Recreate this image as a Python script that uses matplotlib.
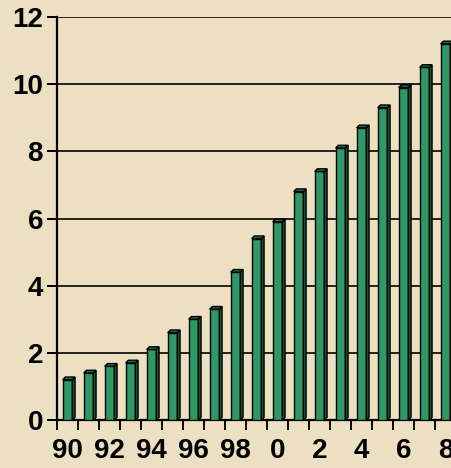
import matplotlib
matplotlib.use("Agg")
import matplotlib.pyplot as plt
from matplotlib.patches import Polygon
import numpy as np

years = ["90", "91", "92", "93", "94", "95", "96", "97", "98", "99",
         "0", "1", "2", "3", "4", "5", "6", "7", "8"]
values = [1.2, 1.4, 1.6, 1.7, 2.1, 2.6, 3.0, 3.3, 4.4, 5.4,
          5.9, 6.8, 7.4, 8.1, 8.7, 9.3, 9.9, 10.5, 11.2]
yticks = [0, 2, 4, 6, 8, 10, 12]

bg = "#ECDFC2"
front = "#2E9966"
side = "#17553A"
top = "#1F7048"

fig = plt.figure(figsize=(4.52, 4.68), dpi=100, facecolor=bg)
ax = fig.add_axes([57/452, 48/468, 399/452, 403/468])
ax.set_facecolor(bg)

x = np.arange(len(years))
w = 0.46
dx, dy = 0.13, 0.08

ax.set_xlim(-0.5, len(years) - 0.5)
ax.set_ylim(0, 12)

for yv in yticks[1:]:
    ax.axhline(yv, color="#222222", lw=1.4, zorder=1)

ax.bar(x, values, width=w, color=front, edgecolor="black", linewidth=1.0, zorder=3)
for xi, v in zip(x, values):
    r = xi + w / 2
    l = xi - w / 2
    ax.add_patch(Polygon([(r, 0), (r + dx, dy), (r + dx, v + dy), (r, v)],
                         closed=True, facecolor=side, edgecolor="black", lw=1.0, zorder=3))
    ax.add_patch(Polygon([(l, v), (l + dx, v + dy), (r + dx, v + dy), (r, v)],
                         closed=True, facecolor=top, edgecolor="black", lw=1.0, zorder=3))

for s in ["top", "right"]:
    ax.spines[s].set_visible(False)
ax.spines["left"].set_linewidth(1.6)
ax.spines["bottom"].set_linewidth(1.6)

ax.set_yticks(yticks)
ax.set_yticklabels([str(t) for t in yticks], fontsize=20, fontweight="bold",
                   family="Liberation Sans")
ax.tick_params(axis="y", length=7, width=1.4, pad=3)

ax.set_xticks(x[::2])
ax.set_xticklabels(years[::2], fontsize=20, fontweight="bold", family="Liberation Sans")
ax.tick_params(axis="x", which="major", length=0, pad=13)
ax.set_xticks(np.arange(-0.5, len(years), 1.0), minor=True)
ax.tick_params(axis="x", which="minor", length=7, width=1.4)

fig.savefig("out.png", dpi=100, facecolor=bg)
